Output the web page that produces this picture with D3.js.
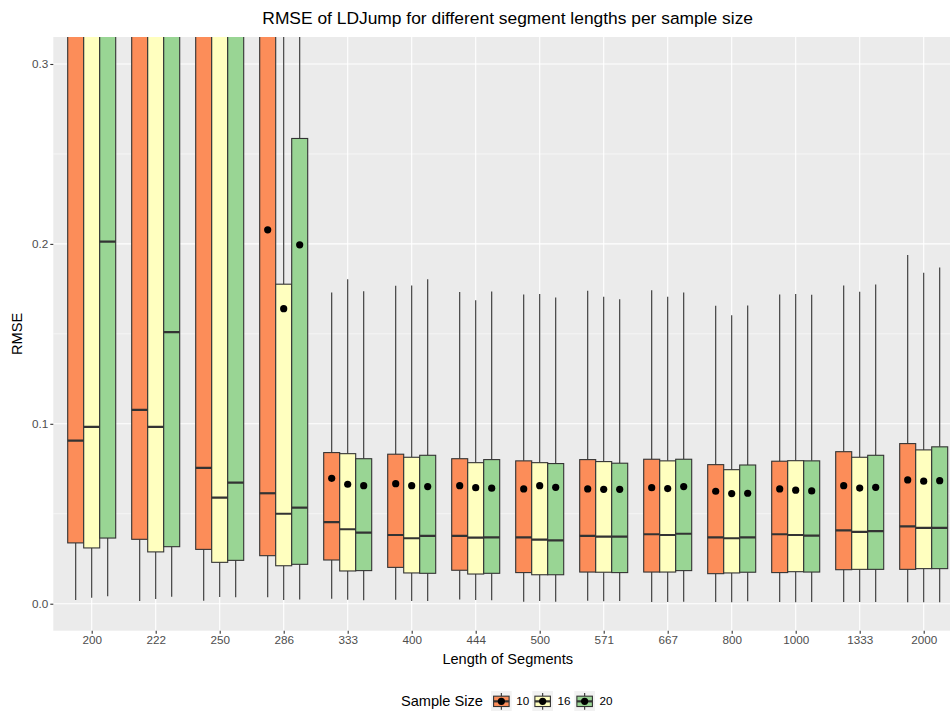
<!DOCTYPE html>
<html>
<head>
<meta charset="utf-8">
<script src="https://cdn.jsdelivr.net/npm/d3@7"></script>
<style>
  html, body { margin: 0; padding: 0; background: #ffffff; }
  svg { display: block; font-family: "Liberation Sans", Arial, Helvetica, sans-serif; }
</style>
</head>
<body>
<svg id="chart" width="950" height="711"></svg>
<script>
// Segment lengths (x categories) and sample sizes (dodged groups)
const segmentLengths = ["200", "222", "250", "286", "333", "400", "444", "500", "571", "667", "800", "1000", "1333", "2000"];
const sampleSizes = ["10", "16", "20"];
const sizeColors = ["#FC8D59", "#FFFFBF", "#99D594"];

// Box statistics per segment length; each row holds [n=10, n=16, n=20]
const whiskerLow = [
  [0.0020, 0.0033, 0.0041], [0.0015, 0.0026, 0.0039], [0.0017, 0.0037, 0.0036], [0.0036, 0.0020, 0.0024],
  [0.0028, 0.0022, 0.0019], [0.0022, 0.0015, 0.0015], [0.0024, 0.0021, 0.0019], [0.0011, 0.0015, 0.0011],
  [0.0017, 0.0013, 0.0015], [0.0009, 0.0009, 0.0011], [0.0009, 0.0008, 0.0013], [0.0009, 0.0008, 0.0009],
  [0.0009, 0.0009, 0.0009], [0.0008, 0.0008, 0.0008]
];
const q1 = [
  [0.0338, 0.0310, 0.0365], [0.0358, 0.0288, 0.0317], [0.0302, 0.0230, 0.0241], [0.0267, 0.0211, 0.0219],
  [0.0243, 0.0182, 0.0184], [0.0202, 0.0171, 0.0169], [0.0186, 0.0165, 0.0169], [0.0173, 0.0161, 0.0161],
  [0.0176, 0.0175, 0.0173], [0.0176, 0.0176, 0.0184], [0.0167, 0.0171, 0.0175], [0.0173, 0.0178, 0.0176],
  [0.0189, 0.0191, 0.0191], [0.0191, 0.0195, 0.0195]
];
const median = [
  [0.0907, 0.0983, 0.2013], [0.1077, 0.0983, 0.1510], [0.0755, 0.0590, 0.0673], [0.0614, 0.0500, 0.0534],
  [0.0454, 0.0414, 0.0395], [0.0382, 0.0364, 0.0377], [0.0377, 0.0367, 0.0369], [0.0369, 0.0356, 0.0352],
  [0.0377, 0.0373, 0.0373], [0.0386, 0.0382, 0.0389], [0.0369, 0.0364, 0.0369], [0.0386, 0.0382, 0.0378],
  [0.0408, 0.0399, 0.0403], [0.0430, 0.0421, 0.0421]
];
const q3 = [
  [0.4200, 0.4500, 0.4800], [0.4300, 0.4400, 0.4600], [0.3800, 0.3600, 0.3900], [0.3500, 0.1776, 0.2586],
  [0.0840, 0.0834, 0.0806], [0.0831, 0.0814, 0.0825], [0.0806, 0.0784, 0.0801], [0.0794, 0.0784, 0.0779],
  [0.0801, 0.0790, 0.0781], [0.0803, 0.0794, 0.0803], [0.0773, 0.0745, 0.0771], [0.0792, 0.0795, 0.0794],
  [0.0845, 0.0814, 0.0825], [0.0890, 0.0855, 0.0872]
];
const whiskerHigh = [
  [0.9500, 0.9800, 1.0000], [0.9600, 0.9700, 0.9900], [0.9000, 0.8800, 0.9300], [0.8500, 0.4300, 0.6200],
  [0.1730, 0.1804, 0.1737], [0.1767, 0.1769, 0.1804], [0.1732, 0.1687, 0.1735], [0.1719, 0.1722, 0.1702],
  [0.1739, 0.1706, 0.1693], [0.1743, 0.1706, 0.1730], [0.1656, 0.1604, 0.1657], [0.1719, 0.1722, 0.1717],
  [0.1769, 0.1734, 0.1774], [0.1938, 0.1839, 0.1869]
];
const meanRMSE = [
  [0.3600, 0.3400, 0.3800], [0.3700, 0.3500, 0.3600], [0.3300, 0.3200, 0.3400], [0.2078, 0.1640, 0.1995],
  [0.0697, 0.0664, 0.0656], [0.0667, 0.0656, 0.0651], [0.0656, 0.0645, 0.0642], [0.0638, 0.0656, 0.0647],
  [0.0638, 0.0636, 0.0636], [0.0645, 0.0640, 0.0651], [0.0625, 0.0612, 0.0614], [0.0638, 0.0631, 0.0627],
  [0.0656, 0.0643, 0.0647], [0.0688, 0.0681, 0.0684]
];
const yTicks = [0.0, 0.1, 0.2, 0.3];
const yMinorTicks = [0.05, 0.15, 0.25];

// Flatten into one record per box
const boxes = [];
segmentLengths.forEach((seg, i) => {
  sampleSizes.forEach((n, j) => {
    boxes.push({
      seg, n, color: sizeColors[j],
      lo: whiskerLow[i][j], q1: q1[i][j], med: median[i][j],
      q3: q3[i][j], hi: whiskerHigh[i][j], mean: meanRMSE[i][j]
    });
  });
});

const svg = d3.select("#chart");
const panel = { left: 53.3, top: 37, bottom: 630.7 };
const step = 64;
const firstCenter = panel.left + 0.6 * step;
const lastCenter = firstCenter + (segmentLengths.length - 1) * step;
panel.right = lastCenter + 0.6 * step;

const x = d3.scalePoint().domain(segmentLengths).range([firstCenter, lastCenter]);
const xInner = d3.scaleBand().domain(sampleSizes).range([-0.375 * step, 0.375 * step]).padding(0);
const y = d3.scaleLinear().domain([-0.015, 0.315]).range([panel.bottom, panel.top]);

const ink = "#333333";

// Panel background
svg.append("rect")
  .attr("x", panel.left).attr("y", panel.top)
  .attr("width", panel.right - panel.left).attr("height", panel.bottom - panel.top)
  .attr("fill", "#EBEBEB");

// Grid lines
const grid = svg.append("g");
grid.selectAll("line.minor").data(yMinorTicks).join("line")
  .attr("x1", panel.left).attr("x2", panel.right)
  .attr("y1", d => y(d)).attr("y2", d => y(d))
  .attr("stroke", "#ffffff").attr("stroke-width", 0.55);
grid.selectAll("line.majorY").data(yTicks).join("line")
  .attr("x1", panel.left).attr("x2", panel.right)
  .attr("y1", d => y(d)).attr("y2", d => y(d))
  .attr("stroke", "#ffffff").attr("stroke-width", 1.1);
grid.selectAll("line.majorX").data(segmentLengths).join("line")
  .attr("x1", d => x(d)).attr("x2", d => x(d))
  .attr("y1", panel.top).attr("y2", panel.bottom)
  .attr("stroke", "#ffffff").attr("stroke-width", 1.1);

// Clip marks to the panel
svg.append("clipPath").attr("id", "panelClip")
  .append("rect")
  .attr("x", panel.left).attr("y", panel.top)
  .attr("width", panel.right - panel.left).attr("height", panel.bottom - panel.top);

const marks = svg.append("g").attr("clip-path", "url(#panelClip)");
const cx = d => x(d.seg) + xInner(d.n) + xInner.bandwidth() / 2;
const bw = xInner.bandwidth();

// Whiskers
marks.selectAll("line.whiskerUp").data(boxes).join("line")
  .attr("x1", cx).attr("x2", cx)
  .attr("y1", d => y(d.q3)).attr("y2", d => y(d.hi))
  .attr("stroke", ink).attr("stroke-width", 1.1);
marks.selectAll("line.whiskerDown").data(boxes).join("line")
  .attr("x1", cx).attr("x2", cx)
  .attr("y1", d => y(d.q1)).attr("y2", d => y(d.lo))
  .attr("stroke", ink).attr("stroke-width", 1.1);

// Boxes
marks.selectAll("rect.box").data(boxes).join("rect")
  .attr("x", d => cx(d) - bw / 2).attr("width", bw)
  .attr("y", d => y(d.q3)).attr("height", d => y(d.q1) - y(d.q3))
  .attr("fill", d => d.color).attr("stroke", ink).attr("stroke-width", 1.1);

// Medians
marks.selectAll("line.median").data(boxes).join("line")
  .attr("x1", d => cx(d) - bw / 2).attr("x2", d => cx(d) + bw / 2)
  .attr("y1", d => y(d.med)).attr("y2", d => y(d.med))
  .attr("stroke", ink).attr("stroke-width", 2.2);

// Means
marks.selectAll("circle.mean").data(boxes).join("circle")
  .attr("cx", cx).attr("cy", d => y(d.mean)).attr("r", 3.6)
  .attr("fill", "#000000");

// Axes
const yAxis = d3.axisLeft(y).tickValues(yTicks).tickFormat(d3.format(".1f")).tickSize(3).tickPadding(2);
const gy = svg.append("g").attr("transform", `translate(${panel.left},0)`).call(yAxis);
gy.select(".domain").remove();
gy.selectAll(".tick line").attr("stroke", ink).attr("stroke-width", 1.1);
gy.selectAll(".tick text").attr("fill", "#4D4D4D").attr("font-size", "11.7px")
  .attr("font-family", "Liberation Sans, Arial, sans-serif");

const xAxis = d3.axisBottom(x).tickSize(3).tickPadding(2);
const gx = svg.append("g").attr("transform", `translate(0,${panel.bottom})`).call(xAxis);
gx.select(".domain").remove();
gx.selectAll(".tick line").attr("stroke", ink).attr("stroke-width", 1.1);
gx.selectAll(".tick text").attr("fill", "#4D4D4D").attr("font-size", "11.7px")
  .attr("font-family", "Liberation Sans, Arial, sans-serif");

const panelMid = (panel.left + panel.right) / 2;

// Titles
svg.append("text").attr("x", panelMid).attr("y", 24)
  .attr("text-anchor", "middle").attr("font-size", "17.4px").attr("fill", "#000")
  .text("RMSE of LDJump for different segment lengths per sample size");
svg.append("text").attr("x", panelMid).attr("y", 664)
  .attr("text-anchor", "middle").attr("font-size", "14.6px").attr("fill", "#000")
  .text("Length of Segments");
svg.append("text")
  .attr("transform", `translate(22,${(panel.top + panel.bottom) / 2}) rotate(-90)`)
  .attr("text-anchor", "middle").attr("font-size", "14.6px").attr("fill", "#000")
  .text("RMSE");

// Legend
const legend = svg.append("g");
const keySize = 20.7;
const keyTop = 691;
const keyX = [491, 532.3, 574.3];
legend.append("text").attr("x", 401).attr("y", keyTop + keySize / 2 + 5)
  .attr("font-size", "14.6px").attr("fill", "#000").text("Sample Size");
sampleSizes.forEach((n, j) => {
  const g = legend.append("g").attr("transform", `translate(${keyX[j]},${keyTop})`);
  const k = d3.scaleLinear().domain([0, 1]).range([0, keySize]);
  const kv = d3.scaleLinear().domain([0, 1]).range([keySize, 0]);
  g.append("rect").attr("width", keySize).attr("height", keySize).attr("fill", "#F2F2F2");
  g.append("line").attr("x1", k(0.5)).attr("x2", k(0.5)).attr("y1", kv(0.1)).attr("y2", kv(0.25))
    .attr("stroke", ink).attr("stroke-width", 1.1);
  g.append("line").attr("x1", k(0.5)).attr("x2", k(0.5)).attr("y1", kv(0.75)).attr("y2", kv(0.9))
    .attr("stroke", ink).attr("stroke-width", 1.1);
  g.append("rect").attr("x", k(0.125)).attr("y", kv(0.75))
    .attr("width", k(0.75)).attr("height", k(0.5))
    .attr("fill", sizeColors[j]).attr("stroke", ink).attr("stroke-width", 1.1);
  g.append("line").attr("x1", k(0.125)).attr("x2", k(0.875)).attr("y1", kv(0.5)).attr("y2", kv(0.5))
    .attr("stroke", ink).attr("stroke-width", 2.2);
  g.append("circle").attr("cx", k(0.5)).attr("cy", kv(0.5)).attr("r", 3.6).attr("fill", "#000");
  legend.append("text").attr("x", keyX[j] + keySize + 4.5).attr("y", keyTop + keySize / 2 + 4)
    .attr("font-size", "11.7px").attr("fill", "#000").text(n);
});
</script>
</body>
</html>
